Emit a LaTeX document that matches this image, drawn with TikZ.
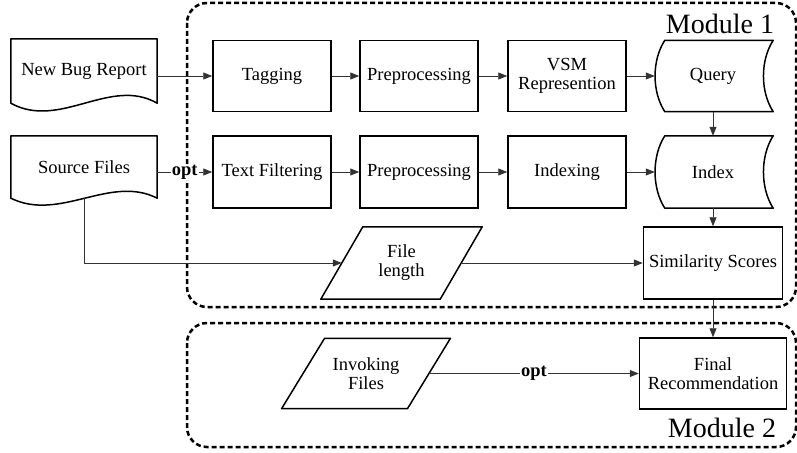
\documentclass[tikz,border=0pt]{standalone}
\usepackage{fontspec}
\setmainfont{Liberation Serif}
\usetikzlibrary{arrows.meta}

\tikzset{
  box/.style={draw, line width=1.5pt, minimum width=118pt, minimum height=71pt, align=center, inner sep=2pt},
  blank/.style={minimum width=#1, minimum height=71pt, align=center, inner sep=0pt},
  outline/.style={draw, line width=1.5pt, line join=round},
  line/.style={draw=black!80, line width=0.8pt, -{Triangle[length=9pt,width=7pt]}},
  module/.style={draw, line width=2.5pt, dash pattern=on 5pt off 3pt, rounded corners=20pt},
  optlab/.style={fill=white, inner sep=1pt, font=\fontsize{18.5}{19}\selectfont\bfseries},
  modlab/.style={font=\fontsize{28}{30}\selectfont}
}

\begin{document}
\begin{tikzpicture}[x=1pt,y=-1pt,font=\fontsize{18.5}{19}\selectfont]
    \useasboundingbox (0,0) rectangle (797,452);
    % module frames
    \draw[module] (187,3) rectangle (796,307);
    \draw[module] (187,323) rectangle (796,447);
    \node[modlab] (m1) at (720,24) {Module 1};
    \node[modlab] (m2) at (722,428) {Module 2};

    % inputs
    \node[blank=146pt, minimum height=64pt] (nbr) at (84,71) {New Bug Report};
    \node[blank=146pt, minimum height=62pt] (src) at (84,167) {Source Files};
    \draw[outline] (nbr.south west) -- (nbr.north west) -- (nbr.north east) -- (nbr.south east)
        .. controls +(-47,-27) and +(49,27) .. (nbr.south west) -- cycle;
    \draw[outline] (src.south west) -- (src.north west) -- (src.north east) -- (src.south east)
        .. controls +(-47,-24) and +(49,24) .. (src.south west) -- cycle;

    % module 1
    \node[box] (tag) at (272,76) {Tagging};
    \node[box] (pre1) at (419,76) {Preprocessing};
    \node[box] (vsm) at (567,76) {VSM\\Represention};
    \node[box, minimum height=72pt] (tf) at (272,172) {Text Filtering};
    \node[box, minimum height=72pt] (pre2) at (419,172) {Preprocessing};
    \node[box, minimum height=72pt] (ixg) at (567,172) {Indexing};
    \node[blank=120pt] (q) at (713,76) {Query};
    \node[blank=120pt, minimum height=72pt] (idx) at (713,172) {Index};
    \draw[outline] ([xshift=12pt]q.north west) -- (q.north east)
        .. controls +(-13,20) and +(-13,-20) .. (q.south east) -- ([xshift=12pt]q.south west)
        .. controls +(-13,-20) and +(-13,20) .. ([xshift=12pt]q.north west) -- cycle;
    \draw[outline] ([xshift=12pt]idx.north west) -- (idx.north east)
        .. controls +(-13,20) and +(-13,-20) .. (idx.south east) -- ([xshift=12pt]idx.south west)
        .. controls +(-13,-20) and +(-13,20) .. ([xshift=12pt]idx.north west) -- cycle;
    \node[blank=119pt, minimum height=72pt] (flen) at (401.5,263) {File\\length};
    \draw[outline] ([xshift=21pt]flen.north west) -- ([xshift=21pt]flen.north east)
        -- ([xshift=-21pt]flen.south east) -- ([xshift=-21pt]flen.south west) -- cycle;
    \node[box, minimum width=139pt, minimum height=72pt] (sim) at (713,263) {Similarity Scores};

    % module 2
    \node[blank=125.5pt, minimum height=70pt] (inv) at (366,373.5) {Invoking\\Files};
    \draw[outline] ([xshift=21.5pt]inv.north west) -- ([xshift=21.5pt]inv.north east)
        -- ([xshift=-21.5pt]inv.south east) -- ([xshift=-21.5pt]inv.south west) -- cycle;
    \node[box, minimum width=147pt] (fin) at (713,373.5) {Final\\Recommendation};

    % connectors
    \draw[line] (nbr.east |- tag.west) -- (tag.west);
    \draw[line] (tag) -- (pre1);
    \draw[line] (pre1) -- (vsm);
    \draw[line] (vsm.east) -- ([xshift=2pt]q.west);
    \draw[line] (src.east |- tf.west) -- node[optlab] {opt} (tf.west);
    \draw[line] (tf) -- (pre2);
    \draw[line] (pre2) -- (ixg);
    \draw[line] (ixg.east) -- ([xshift=2pt]idx.west);
    \draw[line] (q.south) -- (idx.north);
    \draw[line] (idx.south) -- (sim.north);
    \draw[line] (src.south) |- (flen.west);
    \draw[line] (flen.east) -- (sim.west);
    \draw[line] (sim.south) -- (fin.north);
    \draw[line] (inv.east) -- node[optlab] {opt} (fin.west);
\end{tikzpicture}
\end{document}
